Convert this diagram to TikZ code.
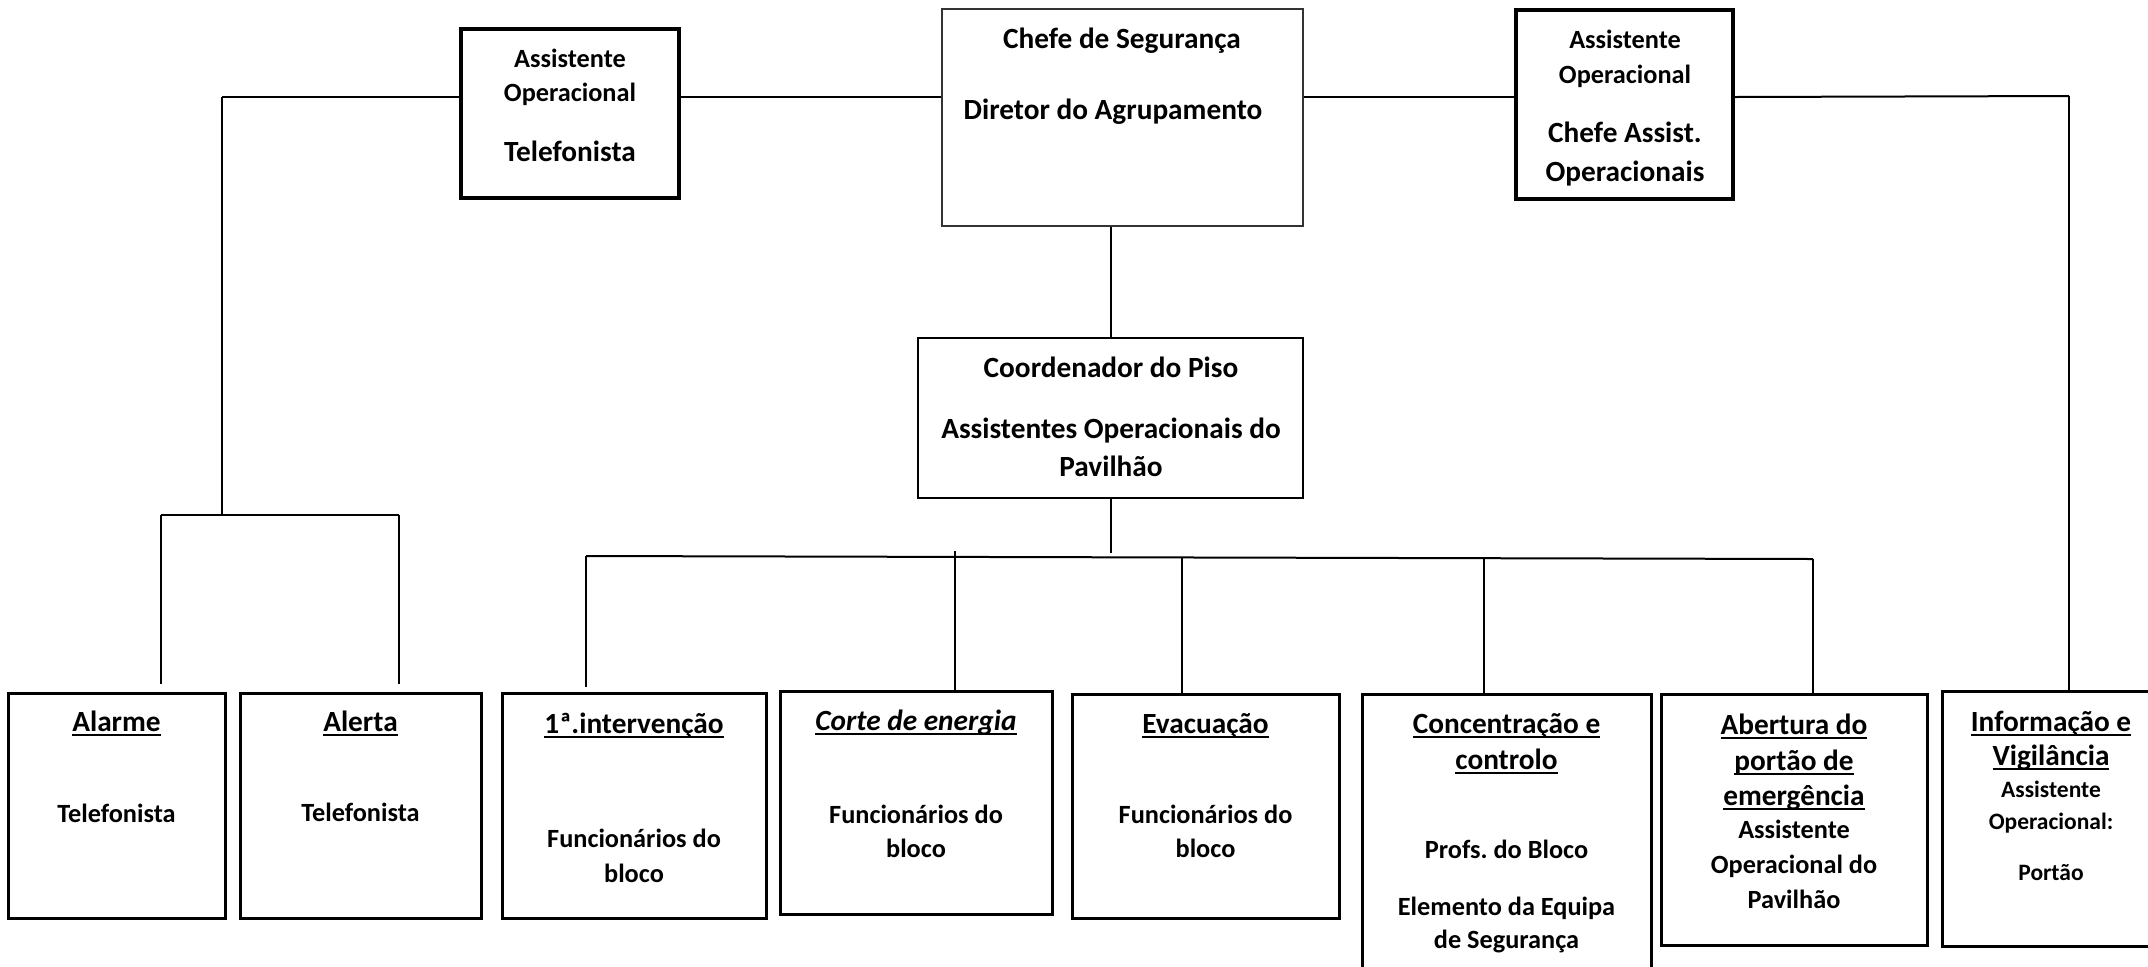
\documentclass[tikz,border=0pt]{standalone}
\usepackage{fontspec}
\setmainfont{Carlito}
\usetikzlibrary{fit}
\frenchspacing
\newcommand\ulx[1]{\setbox0\hbox{#1}\rlap{\rule[-2.6pt]{\wd0}{0.9pt}}\box0}
\tikzset{
 bx/.style={draw, line width=1.5pt, inner sep=0pt},
 bxh/.style={draw, line width=1.75pt, inner sep=0pt},
 bxc/.style={draw=black!80, line width=1.2pt, inner sep=0pt},
 tx/.style={inner sep=0pt, anchor=base, font=\bfseries\fontsize{13.15pt}{15pt}\selectfont},
 tb/.style={tx, font=\bfseries\fontsize{14.65pt}{17pt}\selectfont},
 ts/.style={tx, font=\bfseries\fontsize{11.75pt}{14pt}\selectfont},
 cn/.style={line width=1pt},
 dr/.style={line width=0.75pt},
}
\begin{document}
\begin{tikzpicture}[x=0.5pt,y=-0.5pt]
\useasboundingbox (0,0) rectangle (2148,966);
\clip (0,0) rectangle (2148,966);
\fill[white] (0,0) rectangle (2148,966);

% boxes
\node[bxh, fit={(461,29) (679,198)}] (tel) {};
\node[bxc, fit={(942,9) (1303,226)}] (chefe) {};
\node[bxh, fit={(1516,10) (1733,199)}] (chop) {};
\node[bx, line width=1.4pt, fit={(918,338) (1303,498)}] (coord) {};
\node[bx, fit={(8,693) (225,918)}] (alarme) {};
\node[bx, fit={(240,693) (481,918)}] (alerta) {};
\node[bx, fit={(502,693) (766,918)}] (inter) {};
\node[bx, fit={(780,691) (1052,914)}] (corte) {};
\node[bx, fit={(1072,694) (1339,918)}] (evac) {};
\node[bx, fit={(1362,694) (1651,975)}] (conc) {};
\node[bx, fit={(1661,694) (1927,945)}] (abert) {};
\node[bx, fit={(1942,691) (2160,946)}] (info) {};

% texts top
\node[tx] (tel1) at (570,67) {Assistente};
\node[tx] (tel2) at (570,101) {Operacional};
\node[tb] (tel3) at (570,161) {Telefonista};
\node[tb] (ch1) at (1122,48) {Chefe de Segurança};
\node[tb] (ch2) at (1113,119) {Diretor do Agrupamento};
\node[tx] (co1) at (1625,48) {Assistente};
\node[tx] (co2) at (1625,83) {Operacional};
\node[tb] (co3) at (1625,142) {Chefe Assist.};
\node[tb] (co4) at (1625,181) {Operacionais};
\node[tb] (cd1) at (1111,377) {Coordenador do Piso};
\node[tb] (cd2) at (1111,438) {Assistentes Operacionais do};
\node[tb] (cd3) at (1111,476) {Pavilhão};

% texts bottom
\node[tb] (al1) at (116.5,731) {\ulx{Alarme}};
\node[tx] (al2) at (116.5,822) {Telefonista};
\node[tb] (ae1) at (360.5,731) {\ulx{Alerta}};
\node[tx] (ae2) at (360.5,821) {Telefonista};
\node[tb] (in1) at (634,733) {\ulx{1ª.intervenção}};
\node[tx] (in2) at (634,847) {Funcionários do};
\node[tx] (in3) at (634,882) {bloco};
\node[tb] (ce1) at (916,730) {\ulx{\itshape Corte de energia}};
\node[tx] (ce2) at (916,823) {Funcionários do};
\node[tx] (ce3) at (916,857) {bloco};
\node[tb] (ev1) at (1205.5,733) {\ulx{Evacuação}};
\node[tx] (ev2) at (1205.5,823) {Funcionários do};
\node[tx] (ev3) at (1205.5,857) {bloco};
\node[tb] (cc1) at (1506.5,733) {\ulx{Concentração e}};
\node[tb] (cc2) at (1506.5,769) {\ulx{controlo}};
\node[tx] (cc3) at (1506.5,858) {Profs. do Bloco};
\node[tx] (cc4) at (1506.5,915) {Elemento da Equipa};
\node[tx] (cc5) at (1506.5,948) {de Segurança};
\node[tb] (ab1) at (1794,734) {\ulx{Abertura do}};
\node[tb] (ab2) at (1794,770) {\ulx{portão de}};
\node[tb] (ab3) at (1794,805) {\ulx{emergência}};
\node[tx] (ab4) at (1794,838) {Assistente};
\node[tx] (ab5) at (1794,873) {Operacional do};
\node[tx] (ab6) at (1794,908) {Pavilhão};
\node[tb] (if1) at (2051,731) {\ulx{Informação e}};
\node[tb] (if2) at (2051,765) {\ulx{Vigilância}};
\node[ts] (if3) at (2051,797) {Assistente};
\node[ts] (if4) at (2051,829) {Operacional:};
\node[ts] (if5) at (2051,880) {Portão};

% junction coordinates
\coordinate (cL) at (222,97);
\coordinate (cR) at (2069,96);
\coordinate (bLm) at (222,515);
\coordinate (bL1) at (161,515);
\coordinate (bL2) at (399,515);
\coordinate (cM) at (1110.5,553);
\coordinate (bM1) at (586,556);
\coordinate (bM2) at (1813,559);
\coordinate (dC) at (955,551);
\coordinate (dE) at (1182,557);
\coordinate (dK) at (1484,559);

% connectors top
\draw[cn] (cL) -- (tel.west |- cL);
\draw[cn] (tel.east |- cL) -- (chefe.west |- cL);
\draw[cn] (chefe.east |- cL) -- (chop.west |- cL);
\draw[cn] (chop.east |- cL) -- (cR);
\draw[cn] (cR) -- (cR |- info.north);
\draw[cn] (coord.north |- chefe.south) -- (coord.north);
\draw[cn] (coord.south) -- (cM);

% left group
\draw[cn] (cL) -- (bLm);
\draw[cn] (bL1) -- (bL2);
\draw[dr, shorten >=4pt] (bL1) -- (bL1 |- alarme.north);
\draw[dr, shorten >=4pt] (bL2) -- (bL2 |- alerta.north);

% middle group
\draw[cn] (bM1) -- (bM2);
\draw[dr, shorten >=2.5pt] (bM1) -- (bM1 |- inter.north);
\draw[dr] (dC) -- (dC |- corte.north);
\draw[dr] (dE) -- (dE |- evac.north);
\draw[dr] (dK) -- (dK |- conc.north);
\draw[dr] (bM2) -- (bM2 |- abert.north);
\end{tikzpicture}
\end{document}
